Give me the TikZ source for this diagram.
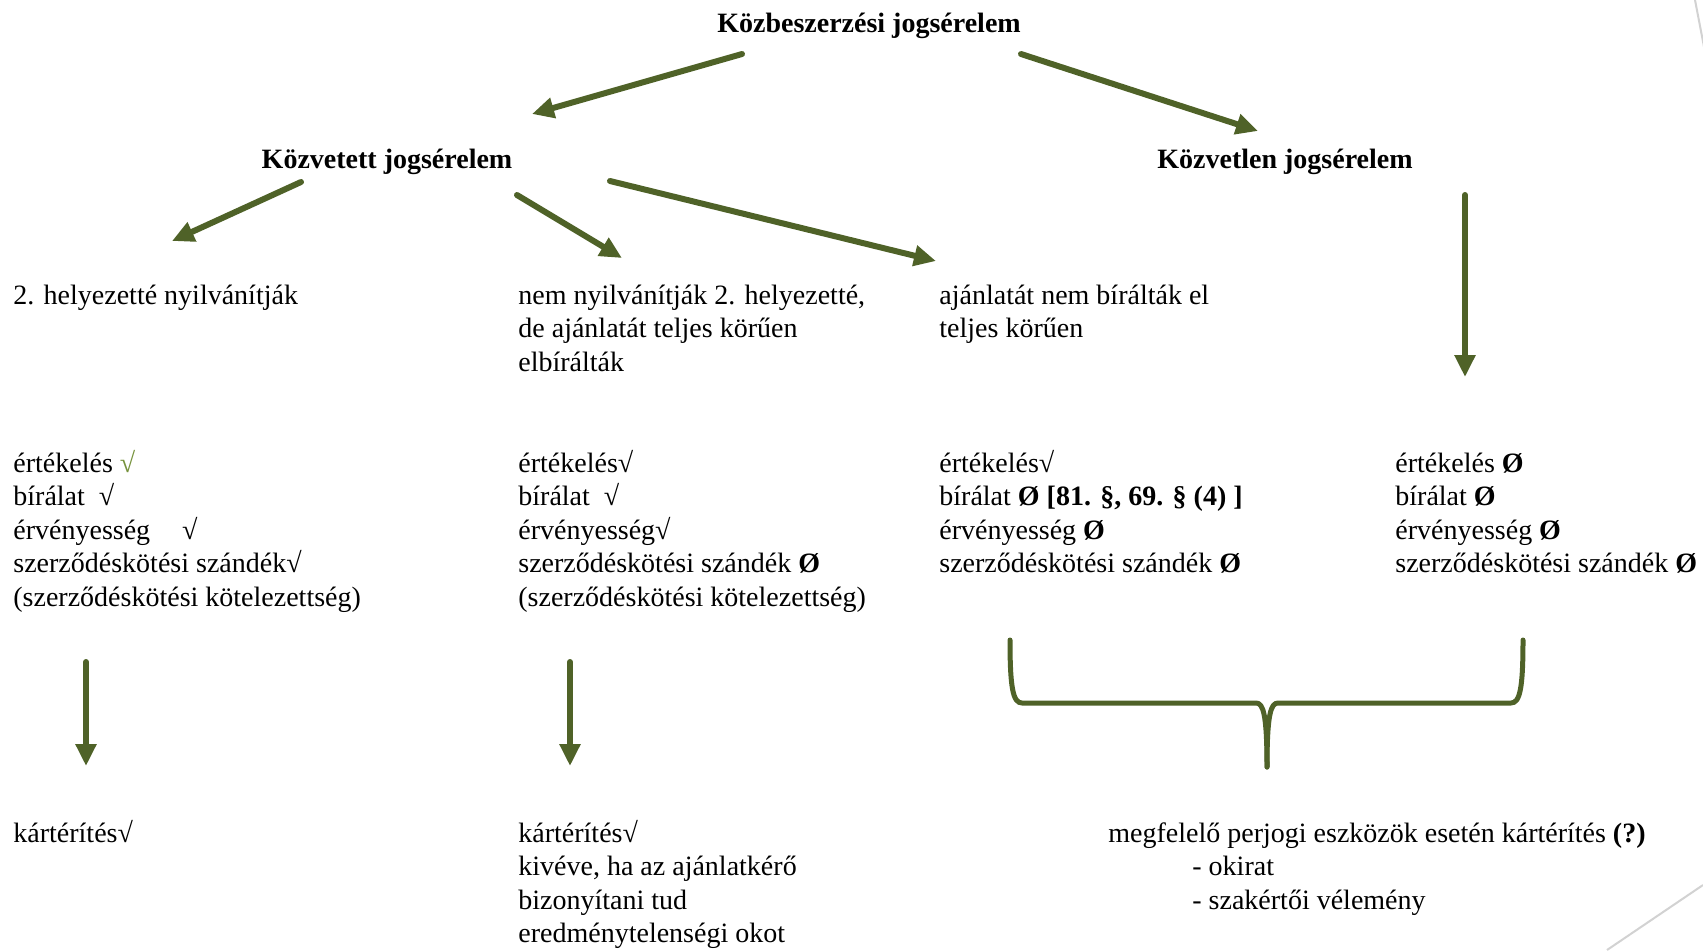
\documentclass[tikz,border=0pt]{standalone}
\usepackage{fontspec}
\setmainfont{Liberation Serif}
\definecolor{olivedark}{HTML}{4F6228}
\definecolor{olivecheck}{HTML}{76923C}
\usetikzlibrary{arrows.meta}

\begin{document}
\begin{tikzpicture}[x=0.5pt, y=-0.5pt,
    txt/.style={anchor=base west, align=left, inner sep=0pt,
      font=\fontsize{14}{16.8}\selectfont},
    head/.style={anchor=base, inner sep=0pt,
      font=\fontsize{14}{16.8}\selectfont\bfseries},
    arr/.style={-{Triangle[length=11pt,width=10pt]}, line width=3pt,
      olivedark, line cap=round},
    brace/.style={olivedark, line width=2.5pt, line cap=round, line join=round}]
  \useasboundingbox (0,0) rectangle (1703,950);
  % Headings
  \node[head] (kozb) at (869,32) {Közbeszerzési jogsérelem};
  \node[head] (kozvetett) at (387,168) {Közvetett jogsérelem};
  \node[head] (kozvetlen) at (1285,168) {Közvetlen jogsérelem};
  % Cases (base = last line)
  \node[txt] (hely) at (13,304) {2. helyezetté nyilvánítják};
  \node[txt] (nem) at (518,371.2) {nem nyilvánítják 2. helyezetté,\\de ajánlatát teljes körűen\\elbírálták};
  \node[txt] (ajan) at (939,337.6) {ajánlatát nem bírálták el\\teljes körűen};
  % Stages
  \node[txt] (ert1) at (13,606.4) {értékelés {\color{olivecheck}√}\\bírálat\ \ √\\érvényesség\hspace*{16pt}√\\szerződéskötési szándék√\\(szerződéskötési kötelezettség)};
  \node[txt] (ert2) at (518,606.4) {értékelés√\\bírálat\ \ √\\érvényesség√\\szerződéskötési szándék \textbf{Ø}\\(szerződéskötési kötelezettség)};
  \node[txt] (ert3) at (939,572.8) {értékelés√\\bírálat \textbf{Ø [81. §, 69. § (4) ]}\\érvényesség \textbf{Ø}\\szerződéskötési szándék \textbf{Ø}};
  \node[txt] (ert4) at (1395,572.8) {értékelés \textbf{Ø}\\bírálat \textbf{Ø}\\érvényesség \textbf{Ø}\\szerződéskötési szándék \textbf{Ø}};
  % Outcomes
  \node[txt] (kart1) at (13,842) {kártérítés√};
  \node[txt] (kart2) at (518,942.8) {kártérítés√\\kivéve, ha az ajánlatkérő\\bizonyítani tud\\eredménytelenségi okot};
  \node[txt] (perjog) at (1108,909.2) {megfelelő perjogi eszközök esetén kártérítés \textbf{(?)}\\\hspace*{42pt}- okirat\\\hspace*{42pt}- szakértői vélemény};
  % Arrow ends
  \coordinate (kozb-l) at (742,54);
  \coordinate (kozb-r) at (1021,54);
  \coordinate (kozvetett-in) at (532,114);
  \coordinate (kozvetlen-in) at (1258,131);
  \coordinate (kozvetett-1) at (301,182);
  \coordinate (kozvetett-2) at (517,195);
  \coordinate (kozvetett-3) at (610,181);
  \coordinate (kozvetlen-out) at (1465,195);
  \coordinate (hely-in) at (172,241);
  \coordinate (nem-in) at (622,258);
  \coordinate (ajan-in) at (936,261);
  \coordinate (ert4-in) at (1465,377);
  \coordinate (ert1-out) at (86,662);
  \coordinate (ert2-out) at (570,662);
  \coordinate (kart1-in) at (86,766);
  \coordinate (kart2-in) at (570,766);
  % Arrows
  \draw[arr] (kozb-l) -- (kozvetett-in);
  \draw[arr] (kozb-r) -- (kozvetlen-in);
  \draw[arr] (kozvetett-1) -- (hely-in);
  \draw[arr] (kozvetett-2) -- (nem-in);
  \draw[arr] (kozvetett-3) -- (ajan-in);
  \draw[arr] (kozvetlen-out) -- (ert4-in);
  \draw[arr] (ert1-out) -- (kart1-in);
  \draw[arr] (ert2-out) -- (kart2-in);
  % Brace
  \draw[brace] (1010,640) .. controls (1010,688) and (1013,703) .. (1022,703)
    -- (1256,703) .. controls (1263,703) and (1267,713) .. (1267,767);
  \draw[brace] (1523,640) .. controls (1523,688) and (1520,703) .. (1511,703)
    -- (1278,703) .. controls (1271,703) and (1267,713) .. (1267,767);
  % Slide corner lines
  \draw[gray!35, line width=1pt] (1695,0) -- (1705,52);
  \draw[gray!35, line width=1pt] (1607,950) -- (1703,885);
\end{tikzpicture}
\end{document}
